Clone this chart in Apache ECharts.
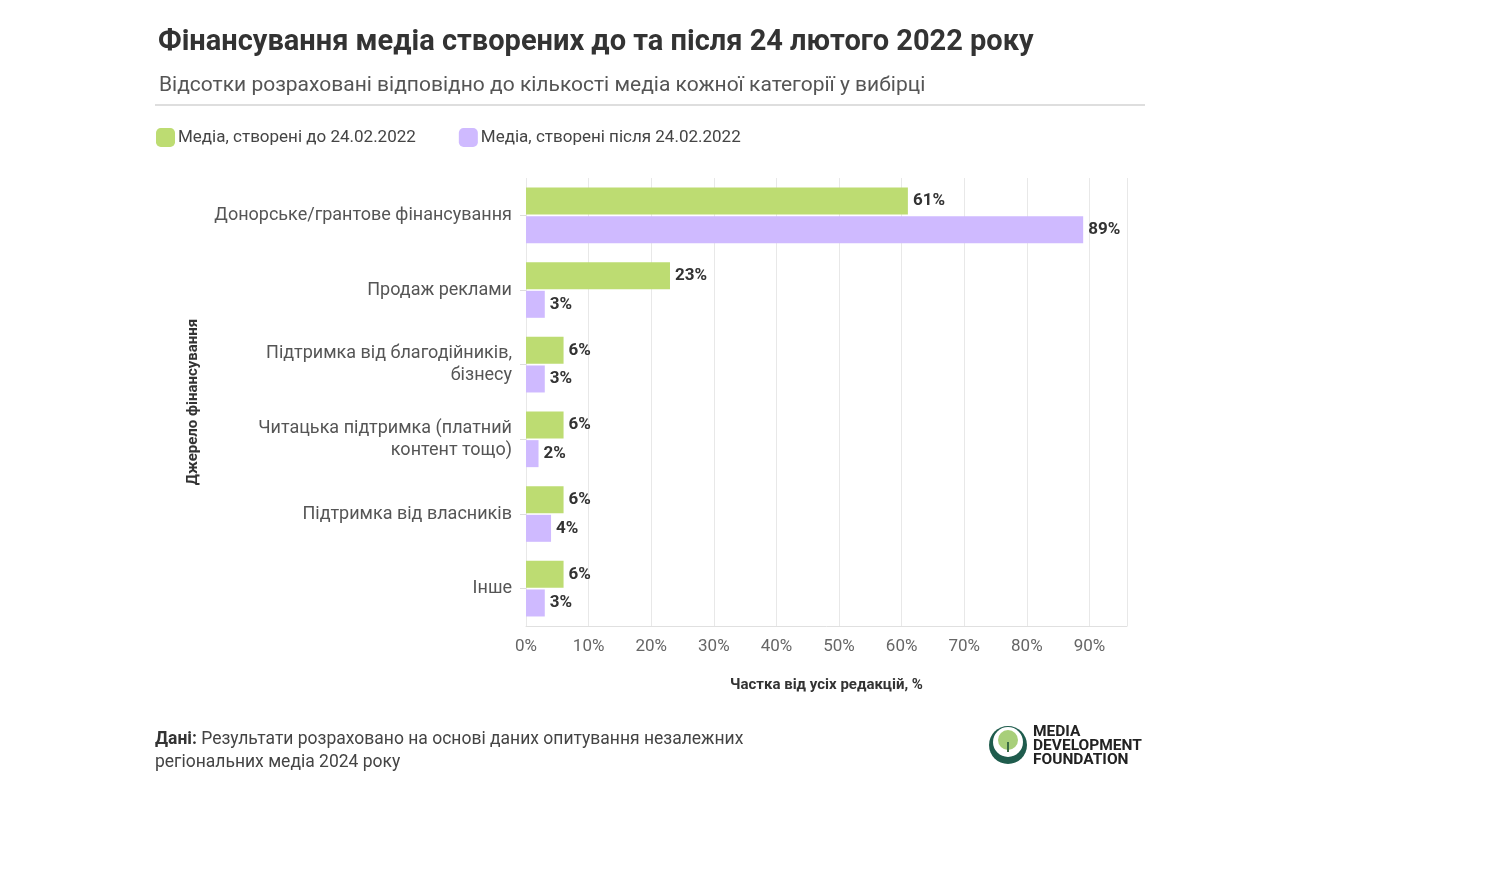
<!DOCTYPE html>
<html>
<head>
<meta charset="utf-8">
<script src="https://cdn.jsdelivr.net/npm/echarts@6/dist/echarts.min.js"></script>
<style>
  html, body { margin: 0; padding: 0; background: #fff; }
  #chart-container { width: 1500px; height: 895px; }
</style>
</head>
<body>
<div id="chart-container"></div>
<script>
// data
var categories = [
    'Донорське/грантове фінансування',
    'Продаж реклами',
    'Підтримка від благодійників,\nбізнесу',
    'Читацька підтримка (платний\nконтент тощо)',
    'Підтримка від власників',
    'Інше'
];
var seriesNames = ['Медіа, створені до 24.02.2022', 'Медіа, створені після 24.02.2022'];
var before2022 = [61, 23, 6, 6, 6, 6];
var after2022 = [89, 3, 3, 2, 4, 3];
var xTicks = [0, 10, 20, 30, 40, 50, 60, 70, 80, 90];

var FONT = 'Roboto, "Noto Sans", sans-serif';

var dom = document.getElementById('chart-container');
var myChart = echarts.init(dom, null, { renderer: 'canvas' });

var option = {
    backgroundColor: '#ffffff',
    textStyle: { fontFamily: FONT },
    animation: false,
    title: [
        {
            text: 'Фінансування медіа створених до та після 24 лютого 2022 року',
            left: 153, top: 23,
            textStyle: { fontSize: 29, fontWeight: 'bold', color: '#333', fontFamily: FONT }
        },
        {
            text: 'Відсотки розраховані відповідно до кількості медіа кожної категорії у вибірці',
            left: 154, top: 70,
            textStyle: { fontSize: 21, fontWeight: 'normal', color: '#555', fontFamily: FONT }
        }
    ],
    legend: {
        data: seriesNames,
        left: 151, top: 123,
        icon: 'roundRect',
        itemWidth: 19, itemHeight: 19,
        itemGap: 43,
        textStyle: { fontSize: 17, color: '#444', padding: [0, 0, 0, -2] }
    },
    grid: { left: 526, right: 373, top: 178, bottom: 269 },
    xAxis: {
        type: 'value',
        min: 0, max: 96, interval: 10,
        name: 'Частка від усіх редакцій, %',
        nameLocation: 'middle',
        nameGap: 52,
        nameTextStyle: { fontSize: 15, fontWeight: 'bold', color: '#333' },
        axisLine: { show: true, lineStyle: { color: '#e0e0e0' } },
        axisTick: { show: false },
        splitLine: { show: true, lineStyle: { color: '#e8e8e8' } },
        axisLabel: {
            fontSize: 17, color: '#666', margin: 12,
            showMaxLabel: false,
            formatter: function (v) { return xTicks.indexOf(v) >= 0 ? v + '%' : ''; }
        }
    },
    yAxis: {
        type: 'category',
        data: categories,
        inverse: true,
        name: 'Джерело фінансування',
        nameLocation: 'middle',
        nameGap: 325,
        nameTextStyle: { fontSize: 15, fontWeight: 'bold', color: '#333' },
        axisLine: { show: false },
        axisTick: { show: true, alignWithLabel: true, length: 6, lineStyle: { color: '#ddd' } },
        axisLabel: { fontSize: 18, color: '#555', margin: 14, lineHeight: 22, align: 'right' }
    },
    series: [
        {
            name: seriesNames[0],
            type: 'bar',
            data: before2022,
            barWidth: 27,
            barGap: '6%',
            itemStyle: { color: '#bddc72' },
            label: {
                show: true, position: 'right', distance: 5,
                formatter: '{c}%', fontSize: 17, fontWeight: 'bold', color: '#333'
            }
        },
        {
            name: seriesNames[1],
            type: 'bar',
            data: after2022,
            barWidth: 27,
            barGap: '6%',
            itemStyle: { color: '#cfbaff' },
            label: {
                show: true, position: 'right', distance: 5,
                formatter: '{c}%', fontSize: 17, fontWeight: 'bold', color: '#333'
            }
        }
    ],
    graphic: [
        {
            type: 'line',
            shape: { x1: 155, y1: 105, x2: 1145, y2: 105 },
            style: { stroke: '#dedede', lineWidth: 2 }
        },
        {
            type: 'text',
            left: 155, top: 728,
            style: {
                text: '{b|Дані:} Результати розраховано на основі даних опитування незалежних\nрегіональних медіа 2024 року',
                font: '17.5px ' + FONT,
                fill: '#444',
                lineHeight: 23,
                rich: {
                    b: { fontWeight: 'bold', fontSize: 17.5, fill: '#333', fontFamily: FONT }
                }
            }
        },
        // logo
        {
            type: 'circle',
            shape: { cx: 1008, cy: 745, r: 19 },
            style: { fill: '#1f5c4d' }
        },
        {
            type: 'circle',
            shape: { cx: 1008, cy: 742, r: 15 },
            style: { fill: '#ffffff' }
        },
        {
            type: 'circle',
            shape: { cx: 1008, cy: 740, r: 10 },
            style: { fill: '#a8cf7a' }
        },
        {
            type: 'rect',
            shape: { x: 1007, y: 742, width: 2, height: 10 },
            style: { fill: '#3a6b45' }
        },
        {
            type: 'text',
            left: 1033, top: 724,
            style: {
                text: 'MEDIA\nDEVELOPMENT\nFOUNDATION',
                font: 'bold 15.5px ' + FONT,
                fill: '#222',
                lineHeight: 14
            }
        }
    ]
};

myChart.setOption(option);
window.addEventListener('resize', myChart.resize);
</script>
</body>
</html>
